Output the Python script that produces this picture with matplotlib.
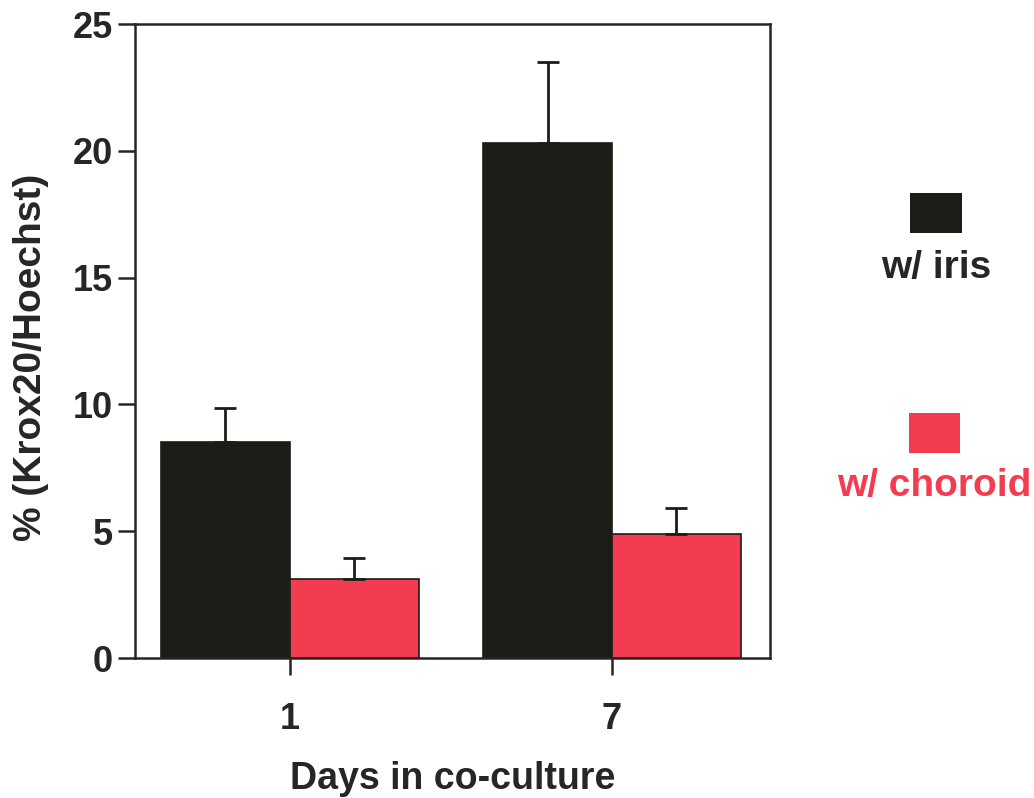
import numpy as np
import matplotlib.pyplot as plt
from matplotlib.patches import Rectangle

plt.rcParams['font.family'] = ['Liberation Sans', 'DejaVu Sans']
plt.rcParams['font.weight'] = 'bold'

days = ["1", "7"]
iris_mean = [8.5, 20.3]
iris_err = [1.35, 3.2]
choroid_mean = [3.1, 4.9]
choroid_err = [0.85, 1.0]

black = "#1b1d17"
red = "#f43c50"
ink = "#262626"

fig = plt.figure(figsize=(10.34, 7.98), dpi=100)
ax = fig.add_axes([0.1306, 0.1754, 0.614, 0.7945])

x = np.arange(len(days))
w = 0.4
err_kw = dict(ecolor=black, elinewidth=2.0, capsize=8, capthick=2.0)
ax.bar(x - w / 2, iris_mean, w, color=black, edgecolor=black, linewidth=1.2,
       yerr=[np.zeros(len(days)), iris_err], error_kw=err_kw, zorder=2)
ax.bar(x + w / 2, choroid_mean, w, color=red, edgecolor=black, linewidth=1.2,
       yerr=[np.zeros(len(days)), choroid_err], error_kw=err_kw, zorder=2)

ax.set_xlim(-0.48, 1.49)
ax.set_ylim(0, 25)
ax.set_yticks([0, 5, 10, 15, 20, 25])
ax.set_xticks(x)
ax.set_xticklabels(days)

for s in ax.spines.values():
    s.set_linewidth(1.8)
    s.set_color(ink)
ax.tick_params(axis='both', direction='out', length=12, width=1.8, color=ink,
               labelsize=26, labelcolor=ink, pad=4)
ax.tick_params(axis='x', pad=20)

ax.set_xlabel("Days in co-culture", fontsize=27, fontweight='bold', color=ink, labelpad=17)
ax.set_ylabel("% (Krox20/Hoechst)", fontsize=28, fontweight='bold', color=ink)
ax.yaxis.set_label_coords(-0.135, 0.475)

# legend drawn on the right side of the figure
fig.add_artist(Rectangle((910 / 1034, 1 - 233 / 798), 52 / 1034, 40 / 798,
                         transform=fig.transFigure, facecolor=black, edgecolor='none'))
fig.text(936 / 1034, 1 - 268 / 798, "w/ iris", ha='center', va='center',
         fontsize=28, fontweight='bold', color=ink)
fig.add_artist(Rectangle((909 / 1034, 1 - 453 / 798), 51 / 1034, 40 / 798,
                         transform=fig.transFigure, facecolor=red, edgecolor='none'))
fig.text(934 / 1034, 1 - 486 / 798, "w/ choroid", ha='center', va='center',
         fontsize=28, fontweight='bold', color=red)

fig.savefig("out.png", dpi=100)
